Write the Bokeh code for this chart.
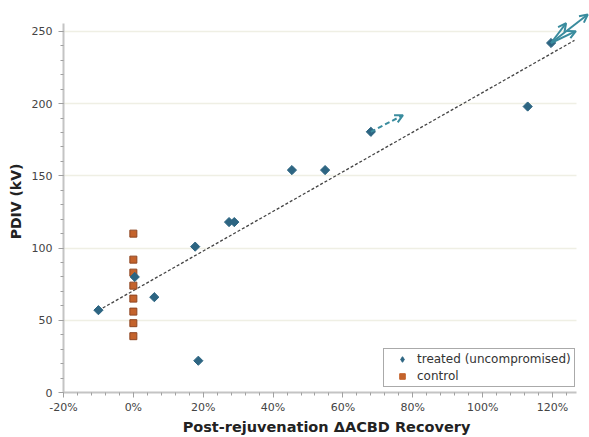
import math
from bokeh.plotting import figure
from bokeh.models import (Range1d, SingleIntervalTicker, PrintfTickFormatter, Arrow,
                          OpenHead, ColumnDataSource, Legend, LegendItem)
from bokeh.embed import file_html
from bokeh.resources import INLINE

# ---- data ----
treated_x = [-10, 0.4, 6, 17.7, 18.6, 27.4, 28.9, 45.4, 54.9, 68, 112.9, 119.6]
treated_y = [57, 80, 66, 101, 22, 118, 118, 154, 154, 180.5, 198, 242]
control_x = [0, 0, 0, 0, 0, 0, 0, 0]
control_y = [110, 92, 83, 74, 65, 56, 48, 39]
trend_x = [-10, 126.3]
trend_y = [56.8, 243.8]
# projected recovery arrows
dash_x0 = [68]
dash_y0 = [180.5]
dash_x1 = [77.2]
dash_y1 = [192]
solid_x0 = [119.6, 119.6, 119.6]
solid_y0 = [242, 242, 242]
solid_x1 = [123.9, 126.7, 130.1]
solid_y1 = [255.7, 250.2, 261.7]

TREAT = "#2d6582"
ARROW = "#3a8c9e"
CTRL_FILL = "#c4632c"
CTRL_LINE = "#8e4622"
FONT = "DejaVu Sans"

X_AXIS = (-20, 127)
Y_AXIS = (0, 255.5)
NAN = float("nan")

p = figure(width=589, height=437, output_backend="svg", toolbar_location=None,
           x_range=Range1d(-20, 130.6), y_range=Range1d(0, 264.5),
           min_border_left=63, min_border_right=0, min_border_top=10, min_border_bottom=43)
p.outline_line_color = None
p.background_fill_color = "white"

# axes
for ax in (p.xaxis[0], p.yaxis[0]):
    ax.axis_line_color = "#c4c4c4"
    ax.axis_line_width = 2
    ax.major_tick_line_color = "#a0a0a0"
    ax.minor_tick_line_color = "#a0a0a0"
    ax.major_tick_in = 0
    ax.major_tick_out = 5
    ax.minor_tick_in = 0
    ax.minor_tick_out = 3
    ax.major_label_text_font = FONT
    ax.major_label_text_font_size = "11px"
    ax.major_label_text_color = "#444444"
    ax.axis_label_text_font = FONT
    ax.axis_label_text_font_style = "bold"
    ax.axis_label_text_color = "#222222"

p.xaxis.bounds = X_AXIS
p.yaxis.bounds = Y_AXIS
p.xaxis.ticker = SingleIntervalTicker(interval=20, num_minor_ticks=5)
p.yaxis.ticker = SingleIntervalTicker(interval=50, num_minor_ticks=5)
p.xaxis.formatter = PrintfTickFormatter(format="%d%%")
p.xaxis.axis_label = "Post-rejuvenation \u0394ACBD Recovery"
p.yaxis.axis_label = "PDIV (kV)"
p.xaxis.axis_label_text_font_size = "14.5px"
p.yaxis.axis_label_text_font_size = "14px"
p.xaxis.major_label_standoff = 3
p.yaxis.major_label_standoff = 6
p.xaxis.axis_label_standoff = 2
p.yaxis.axis_label_standoff = 5

p.xgrid.grid_line_color = None
p.ygrid.grid_line_color = "#efefe4"
p.ygrid.grid_line_width = 1.5
p.ygrid.cross_bounds = X_AXIS

# trend line
p.line(trend_x, trend_y, line_color="#444444", line_width=1.3, line_dash="3 2")

# arrows
dsrc = ColumnDataSource(dict(x0=dash_x0, y0=dash_y0, x1=dash_x1, y1=dash_y1))
ssrc = ColumnDataSource(dict(x0=solid_x0, y0=solid_y0, x1=solid_x1, y1=solid_y1))
p.add_layout(Arrow(source=dsrc, x_start="x0", y_start="y0", x_end="x1", y_end="y1",
                   line_color=ARROW, line_width=2, line_dash="5 3",
                   end=OpenHead(size=8, line_color=ARROW, line_width=2)))
p.add_layout(Arrow(source=ssrc, x_start="x0", y_start="y0", x_end="x1", y_end="y1",
                   line_color=ARROW, line_width=2,
                   end=OpenHead(size=8, line_color=ARROW, line_width=2)))

r_ctrl = p.scatter(control_x, control_y, marker="square", size=7,
                   fill_color=CTRL_FILL, line_color=CTRL_LINE, line_width=1)
r_treat = p.scatter(treated_x, treated_y, marker="square", size=6.5, angle=math.pi / 4,
                    fill_color=TREAT, line_color=TREAT, line_width=1)

# legend swatches (not drawn in the plot: NaN position)
lg_treat = p.scatter([NAN], [NAN], marker="diamond", size=9, fill_color=TREAT, line_color=TREAT)
lg_ctrl = p.scatter([NAN], [NAN], marker="square", size=6, fill_color=CTRL_FILL, line_color=CTRL_FILL)

legend = Legend(items=[LegendItem(label="treated (uncompromised)", renderers=[lg_treat]),
                       LegendItem(label="control", renderers=[lg_ctrl])],
                location=(320, 5))
legend.label_text_font = FONT
legend.label_text_font_size = "12px"
legend.label_text_color = "#333333"
legend.border_line_color = "#555555"
legend.border_line_width = 1
legend.padding = 3
legend.spacing = 3
legend.margin = 0
legend.glyph_width = 30
legend.glyph_height = 14
legend.label_height = 14
legend.label_standoff = 0
legend.background_fill_alpha = 1
p.add_layout(legend)

open("out.html", "w").write(file_html(p, INLINE))
